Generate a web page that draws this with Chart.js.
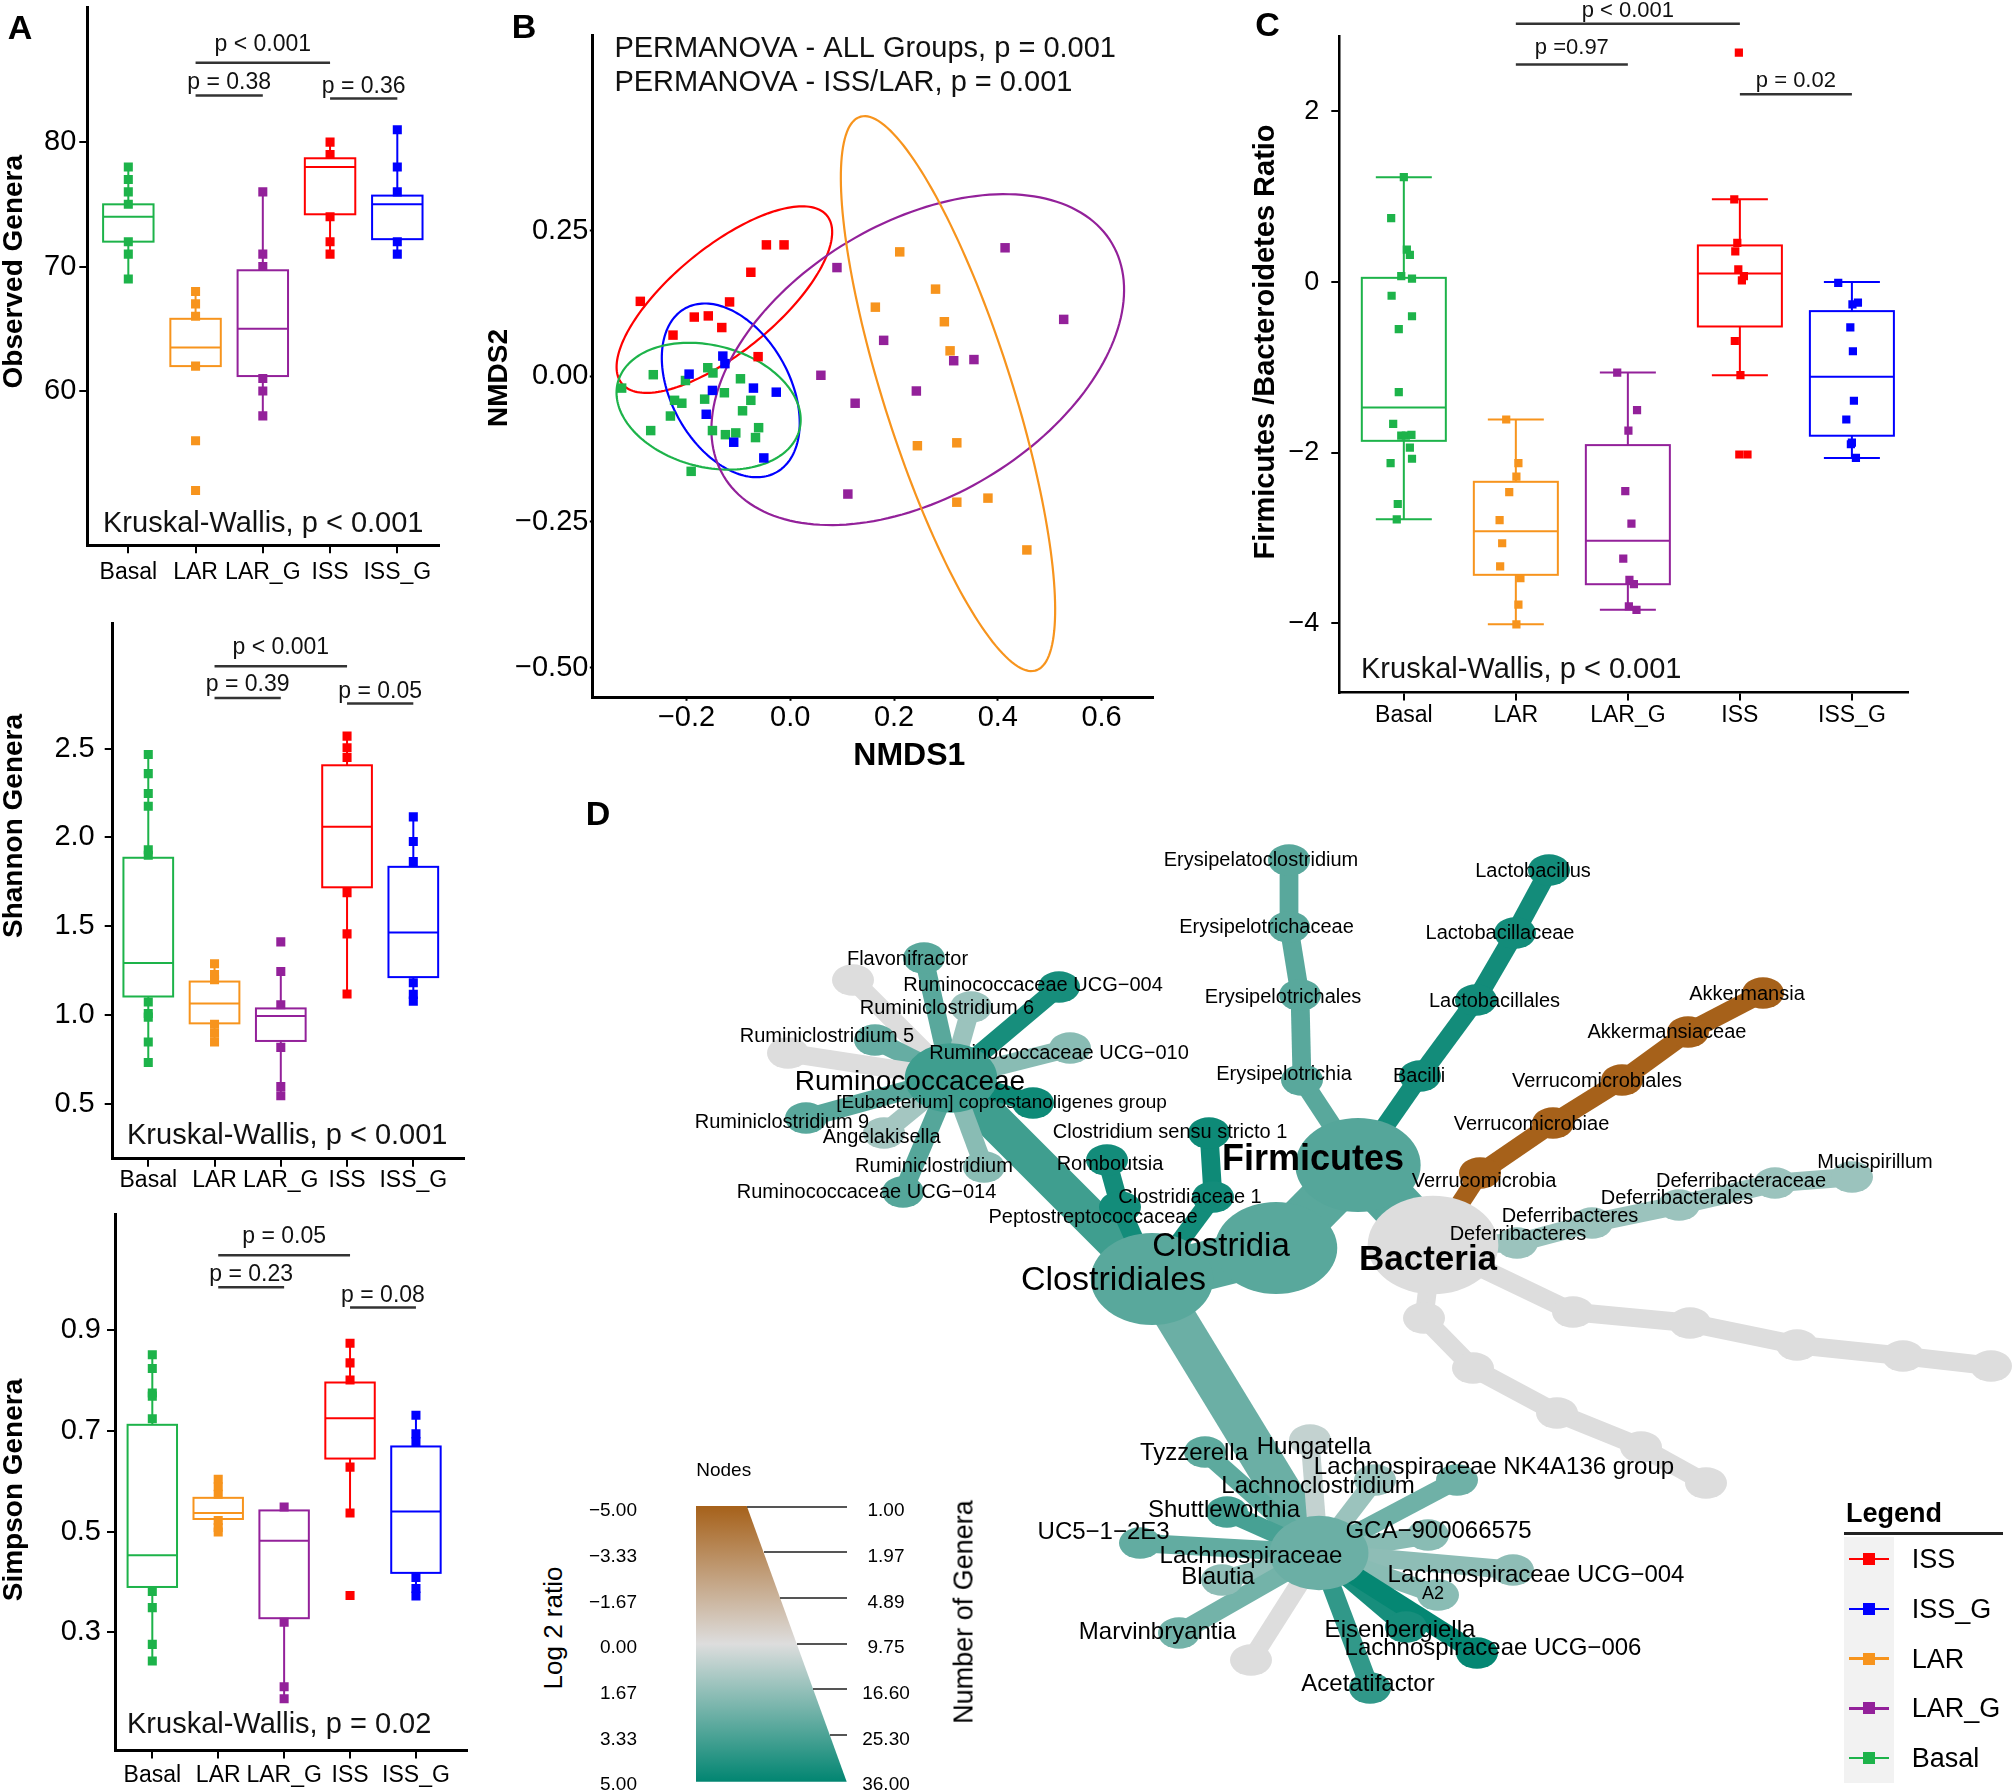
<!DOCTYPE html>
<html><head><meta charset="utf-8"><title>Figure</title>
<script src="https://cdn.jsdelivr.net/npm/chart.js@4.4.1/dist/chart.umd.min.js"></script>
<style>
html,body{margin:0;padding:0;background:#fff;}
body{width:2016px;height:1792px;position:relative;overflow:hidden;font-family:"Liberation Sans",Arial,Helvetica,sans-serif;}
canvas{position:absolute;display:block;}
.t{position:absolute;white-space:nowrap;color:#000;line-height:1;}
.c{transform:translate(-50%,-50%);}
.l{transform:translate(0,-50%);}
.r{transform:translate(-100%,-50%);}
.v{transform:translate(-50%,-50%) rotate(-90deg);}
.bx{position:absolute;}
</style></head><body>
<canvas id="cA1" width="470" height="600" style="left:0px;top:0px"></canvas>
<canvas id="cA2" width="480" height="600" style="left:0px;top:600px"></canvas>
<canvas id="cA3" width="480" height="592" style="left:0px;top:1200px"></canvas>
<canvas id="cB" width="680" height="790" style="left:480px;top:0px"></canvas>
<canvas id="cC" width="796" height="750" style="left:1220px;top:0px"></canvas>
<canvas id="cD" width="1416" height="972" style="left:600px;top:820px"></canvas>
<div id="ann"></div>
<script>
const FF='"Liberation Sans", Arial, Helvetica, sans-serif';
Chart.defaults.font.family=FF;
Chart.defaults.color='#000';

// ---------------- DATA ----------------
const groups=['Basal','LAR','LAR_G','ISS','ISS_G'];
const COL={Basal:'#1DB34A',LAR:'#F7941D',LAR_G:'#93219A',ISS:'#FF0000',ISS_G:'#0000FF'};

// A1 Observed genera
const obsTicks=[60,70,80];
const obsQ1=[72,62,61.2,74.2,72.2];
const obsMed=[74,63.5,65,78,75];
const obsQ3=[75,65.8,69.7,78.7,75.7];
const obsLo=[69,62,58,71,71];
const obsHi=[78,68,76,80,81];
const obsPts=[[78,77,76,75,72,71,69],[68,67,66,62,56,52],[76,71,70,61,60,58],[80,79,74,72,71],[81,78,76,72,71]];
const obsTests=[{p:'p < 0.001',a:2,b:4,y:86.37,ty:87.8},{p:'p = 0.38',a:2,b:3,y:83.75,ty:84.77},{p:'p = 0.36',a:4,b:5,y:83.5,ty:84.43}];

// A2 Shannon genera
const shaTicks=[0.5,1.0,1.5,2.0,2.5];
const shaQ1=[1.106,0.955,0.856,1.72,1.215];
const shaMed=[1.294,1.067,0.996,2.06,1.466];
const shaQ3=[1.886,1.19,1.039,2.406,1.835];
const shaLo=[0.735,0.85,0.548,1.12,1.08];
const shaHi=[2.467,1.29,1.247,2.57,2.116];
const shaPts=[[2.467,2.359,2.247,2.176,1.931,1.90,1.075,1.01,0.99,0.85,0.735],[1.29,1.23,1.20,0.95,0.90,0.85],[1.413,1.247,1.06,0.82,0.60,0.548],[2.57,2.505,2.45,1.69,1.458,1.12],[2.116,1.978,1.865,1.183,1.118,1.08]];
const shaTests=[{p:'p < 0.001',a:2,b:4,y:2.963,ty:3.066},{p:'p = 0.39',a:2,b:3,y:2.784,ty:2.857},{p:'p = 0.05',a:4,b:5,y:2.754,ty:2.818}];

// A3 Simpson genera
const simTicks=[0.3,0.5,0.7,0.9];
const simQ1=[0.39,0.525,0.328,0.645,0.418];
const simMed=[0.453,0.537,0.482,0.725,0.54];
const simQ3=[0.712,0.567,0.542,0.796,0.669];
const simLo=[0.243,0.499,0.168,0.537,0.372];
const simHi=[0.851,0.604,0.549,0.874,0.731];
const simPts=[[0.851,0.824,0.775,0.769,0.724,0.381,0.349,0.276,0.243],[0.604,0.589,0.574,0.522,0.508,0.499],[0.549,0.32,0.192,0.168],[0.874,0.835,0.801,0.628,0.537,0.373],[0.731,0.694,0.679,0.409,0.387,0.372]];
const simTests=[{p:'p = 0.05',a:2,b:4,y:1.0486,ty:1.086},{p:'p = 0.23',a:2,b:3,y:0.985,ty:1.010},{p:'p = 0.08',a:4,b:5,y:0.945,ty:0.9675}];

// B NMDS
const nmds1Ticks=[-0.2,0,0.2,0.4,0.6];
const nmds2Ticks=[-0.5,-0.25,0,0.25];
const basalX=[-0.325,-0.264,-0.202,-0.159,-0.149,-0.223,-0.209,-0.165,-0.127,-0.096,-0.076,-0.092,-0.231,-0.269,-0.150,-0.125,-0.105,-0.061,-0.067,-0.191];
const basalY=[-0.020,0.003,-0.007,0.015,0.006,-0.041,-0.046,-0.039,-0.028,-0.004,-0.041,-0.059,-0.068,-0.093,-0.093,-0.100,-0.097,-0.088,-0.105,-0.163];
const larX=[0.211,0.164,0.280,0.297,0.308,0.245,0.321,0.321,0.381,0.456];
const larY=[0.214,0.119,0.150,0.094,0.044,-0.119,-0.114,-0.216,-0.209,-0.298];
const largX=[0.090,0.414,0.527,0.180,0.059,0.315,0.354,0.125,0.243,0.111];
const largY=[0.187,0.221,0.098,0.062,0.002,0.027,0.029,-0.046,-0.025,-0.202];
const issX=[-0.289,-0.046,-0.012,-0.076,-0.117,-0.185,-0.158,-0.132,-0.226,-0.062];
const issY=[0.129,0.226,0.226,0.179,0.128,0.102,0.104,0.084,0.071,0.034];
const issgX=[-0.195,-0.130,-0.126,-0.150,-0.071,-0.027,-0.162,-0.109,-0.051];
const issgY=[0.004,0.035,0.022,-0.024,-0.020,-0.027,-0.065,-0.113,-0.140];
// 95% ellipses (centre and conjugate half-axes, NMDS units), group order
const ellCx=[-0.1574,0.304,0.2457,-0.127,-0.1147];
const ellCy=[-0.0511,-0.0295,0.0289,0.132,-0.0239];
const ellUx=[0.1765,0.1723,0.3864,0.2015,0.1029];
const ellUy=[-0.0343,-0.4745,0.1773,0.1393,-0.1309];
const ellVx=[-0.0186,-0.1139,0.0941,0.0506,-0.0841];
const ellVy=[-0.1034,-0.0448,-0.2221,-0.0792,-0.0716];

// C Firmicutes/Bacteroidetes
const fbTicks=[-4,-2,0,2];
const fbQ1=[-1.86,-3.43,-3.54,-0.52,-1.80];
const fbMed=[-1.47,-2.92,-3.03,0.10,-1.11];
const fbQ3=[0.05,-2.34,-1.91,0.43,-0.34];
const fbLo=[-2.78,-4.01,-3.84,-1.09,-2.06];
const fbHi=[1.23,-1.61,-1.06,0.97,0.0];
const fbPtsX=[[1.000,0.887,1.027,1.054,0.977,1.073,0.891,1.073,0.955,0.955,0.905,0.977,1.018,1.068,1.054,0.882,1.073,0.946,0.937],
 [1.914,2.023,2.005,1.941,1.855,1.878,1.860,2.041,2.023,2.005],
 [2.905,3.082,3.005,2.977,3.032,2.959,3.014,3.054,3.009,3.077],
 [3.991,3.950,3.977,3.959,3.986,4.036,4.018,3.955,4.005,3.995,4.068],
 [4.878,5.005,5.054,4.986,5.009,5.018,4.950,5.000,4.991,5.036]];
const fbPtsY=[[1.23,0.75,0.38,0.32,0.07,0.04,-0.16,-0.40,-0.55,-1.29,-1.66,-1.80,-1.80,-1.79,-1.94,-2.12,-2.07,-2.60,-2.78],
 [-1.61,-2.12,-2.28,-2.46,-2.79,-3.06,-3.33,-3.47,-3.78,-4.01],
 [-1.06,-1.50,-1.74,-2.45,-2.83,-3.24,-3.49,-3.54,-3.80,-3.84],
 [2.69,0.97,0.46,0.36,0.15,0.07,0.02,-0.69,-1.09,-2.02,-2.02],
 [-0.01,-0.26,-0.24,-0.53,-0.81,-1.39,-1.61,-1.88,-1.90,-2.06]];
const fbTests=[{p:'p < 0.001',a:2,b:4,y:3.026,ty:3.183},{p:'p =0.97',a:2,b:3,y:2.549,ty:2.746},{p:'p = 0.02',a:4,b:5,y:2.2,ty:2.363}];

// D heat tree (layout units)
const treeName=['Bacteria','Firmicutes','Clostridia','Clostridiales','Ruminococcaceae','Lachnospiraceae','Peptostreptococcaceae','Romboutsia','Clostridiaceae 1','Clostridium sensu stricto 1',
 'Erysipelotrichia','Erysipelotrichales','Erysipelotrichaceae','Erysipelatoclostridium','Bacilli','Lactobacillales','Lactobacillaceae','Lactobacillus',
 'Verrucomicrobia','Verrucomicrobiae','Verrucomicrobiales','Akkermansiaceae','Akkermansia',
 'Deferribacteres','Deferribacteres','Deferribacterales','Deferribacteraceae','Mucispirillum',
 '','','','','','','','','','',
 'Flavonifractor','','Ruminococcaceae UCG\u2212004','Ruminiclostridium 6','Ruminiclostridium 5','','Ruminococcaceae UCG\u2212010','[Eubacterium] coprostanoligenes group','Ruminiclostridium 9','Angelakisella','Ruminiclostridium','Ruminococcaceae UCG\u2212014',
 'Tyzzerella','Hungatella','Lachnospiraceae NK4A136 group','Lachnoclostridium','Shuttleworthia','UC5\u22121\u22122E3','GCA\u2212900066575','Lachnospiraceae UCG\u2212004','Blautia','A2','Marvinbryantia','','Eisenbergiella','Lachnospiraceae UCG\u2212006','Acetatifactor'];
const treeParent=[-1,0,1,2,3,3,3,6,3,8, 1,10,11,12,1,14,15,16, 0,18,19,20,21, 0,23,24,25,26, 0,28,29,30,31,0,33,34,35,36,
 4,4,4,4,4,4,4,4,4,4,4,4, 5,5,5,5,5,5,5,5,5,5,5,5,5,5,5];
const treeX=[83.3,75.8,67.6,55.2,35.1,71.9,52.0,50.7,61.3,60.9, 70.2,70.0,68.9,68.9,82.0,87.6,91.5,94.9, 88.0,95.3,102.2,108.8,116.3, 91.7,99.2,107.9,117.5,125.2,
 97.3,109.0,119.7,130.3,139.1,82.4,87.3,95.7,104.1,110.6,
 32.4,25.3,45.9,37.1,27.5,18.8,47.0,43.3,20.6,28.4,38.4,30.3,
 60.5,71.0,85.7,77.5,62.7,54.0,82.8,91.3,62.2,83.8,57.9,65.1,80.6,87.7,77.0];
const treeY=[54.7,62.7,54.4,51.3,71.4,23.9,58.5,63.2,59.5,65.9, 71.2,79.7,86.5,93.2,71.6,79.2,85.9,92.2, 61.9,66.9,71.2,76.0,79.9, 54.9,56.9,58.7,60.9,61.5,
 48.0,46.9,44.7,43.6,42.6,47.4,42.4,37.9,34.5,30.9,
 83.4,81.2,80.5,78.5,75.2,73.9,74.4,68.9,67.4,65.9,62.5,60.0,
 34.0,35.2,31.2,31.2,28.0,24.9,25.7,22.2,21.2,19.7,15.9,13.2,16.5,13.9,10.4];
const treeLog2=[0,3.1,3.0,3.0,3.6,2.6,4.6,4.6,4.6,4.7, 3.0,3.0,3.0,3.0,4.6,4.6,4.6,4.6, -5,-5,-5,-5,-5, 1.5,1.5,1.5,1.5,1.5,
 0,0,0,0,0,0,0,0,0,0,
 3.0,0,4.5,1.5,2.7,0,1.9,4.7,3.0,1.3,1.9,3.1,
 2.9,0.6,2.5,1.5,3.4,2.8,1.9,1.8,1.8,1.9,2.4,0,4.5,4.9,3.9];
const labelX=[82.8,71.3,62.1,51.35,31.0,65.1,49.3,51.0,59.0,57.0, 68.4,68.3,66.65,66.1,81.9,89.45,90.0,93.3, 88.4,93.15,99.7,106.7,114.7, 91.8,97.0,107.7,114.1,127.5,
 0,0,0,0,0,0,0,0,0,0,
 30.75,0,43.3,34.7,22.7,0,45.9,40.16,18.2,28.16,33.4,26.65,
 59.4,71.4,89.4,71.8,62.4,50.36,83.85,93.6,61.8,83.3,55.75,0,80.0,89.3,76.8];
const labelY=[53.2,63.2,54.5,51.1,71.0,23.6,57.5,62.8,59.5,66.0, 71.8,79.5,86.5,93.2,71.6,79.1,85.9,92.1, 61.1,66.8,71.1,76.0,79.8, 55.8,57.6,59.4,61.1,63.0,
 0,0,0,0,0,0,0,0,0,0,
 83.3,0,80.7,78.4,75.6,0,73.9,68.9,67.0,65.5,62.6,60.0,
 33.9,34.5,32.5,30.6,28.2,26.0,26.1,21.7,21.5,19.8,16.0,0,16.2,14.4,10.8];
// legend tick labels
const log2LegendTicks=[-5,-3.33,-1.67,0,1.67,3.33,5];
const sizeLegendTicks=[1,1.97,4.89,9.75,16.6,25.3,36];

// ---------------- HELPERS ----------------
function txt(c,s,x,y,font,align,color,rot){c.save();c.font=font;c.fillStyle=color||'#000';c.textAlign=align||'center';c.textBaseline='middle';c.translate(x,y);if(rot)c.rotate(rot);c.fillText(s,0,0);c.restore();}
function minus(s){return s.replace('-','\u2212');}
function l2c(v){const t=Math.max(-1,Math.min(1,v/5)),a=Math.abs(t),m=[221,221,221],e=t<0?[166,97,26]:[1,133,113];
  return 'rgb('+m.map((mv,k)=>Math.round(mv+(e[k]-mv)*a)).join(',')+')';}
function zeroPad(s){s.paddingTop=0;s.paddingBottom=0;s.paddingLeft=0;s.paddingRight=0;}

function boxPlugin(o){return{id:'boxes',
  beforeDatasetsDraw(ch){const c=ch.ctx,X=ch.scales.x,Y=ch.scales.y;c.save();c.lineWidth=o.lw;
    groups.forEach((g,i)=>{const k=i+1,xc=X.getPixelForValue(k),xl=X.getPixelForValue(k-0.375),xr=X.getPixelForValue(k+0.375);
      const q1=Y.getPixelForValue(o.q1[i]),q3=Y.getPixelForValue(o.q3[i]),md=Y.getPixelForValue(o.med[i]),lo=Y.getPixelForValue(o.lo[i]),hi=Y.getPixelForValue(o.hi[i]);
      c.strokeStyle=COL[g];c.beginPath();c.moveTo(xc,q3);c.lineTo(xc,hi);c.moveTo(xc,q1);c.lineTo(xc,lo);
      if(o.cap){const a=X.getPixelForValue(k-o.cap),b=X.getPixelForValue(k+o.cap);c.moveTo(a,hi);c.lineTo(b,hi);c.moveTo(a,lo);c.lineTo(b,lo);}
      c.stroke();c.fillStyle='#fff';c.fillRect(xl,q3,xr-xl,q1-q3);c.strokeRect(xl,q3,xr-xl,q1-q3);
      c.beginPath();c.moveTo(xl,md);c.lineTo(xr,md);c.stroke();});
    c.restore();},
  afterDraw(ch){const c=ch.ctx,X=ch.scales.x,Y=ch.scales.y;c.save();c.strokeStyle='#333';c.lineWidth=2.5;
    o.tests.forEach(t=>{const a=X.getPixelForValue(t.a),b=X.getPixelForValue(t.b),y=Y.getPixelForValue(t.y);
      c.beginPath();c.moveTo(a,y);c.lineTo(b,y);c.stroke();
      txt(c,t.p,(a+b)/2,Y.getPixelForValue(t.ty),o.pFs+'px '+FF,'center','#111');});
    txt(c,o.kw,o.kwPos[0],o.kwPos[1],o.kwFs+'px '+FF,'left','#111');
    txt(c,o.title,o.tPos[0],o.tPos[1],'bold '+o.tFs+'px '+FF,'center','#000',-Math.PI/2);
    c.restore();}};}

function makeBox(id,o){
  const ds=groups.map((g,i)=>({label:g,data:o.pts[i].map((v,j)=>({x:o.ptsX?o.ptsX[i][j]:i+1,y:v})),
    backgroundColor:COL[g],borderColor:COL[g],borderWidth:0,pointStyle:'rect',pointRadius:o.pr,pointHoverRadius:o.pr}));
  return new Chart(document.getElementById(id),{type:'scatter',data:{datasets:ds},options:{
    responsive:false,animation:false,events:[],
    layout:{padding:{top:o.pad[0],right:o.pad[1],bottom:0,left:0}},
    plugins:{legend:{display:false},tooltip:{enabled:false}},
    scales:{
      x:{type:'linear',bounds:'data',min:o.xr[0],max:o.xr[1],
        afterFit:s=>{s.height=o.xH;zeroPad(s);},
        afterBuildTicks:s=>{s.ticks=groups.map((g,i)=>({value:i+1}));},
        ticks:{autoSkip:false,maxRotation:0,minRotation:0,padding:o.xPad,font:{size:o.xFs},color:'#000',callback:v=>groups[Math.round(v)-1]},
        grid:{drawOnChartArea:false,drawTicks:true,tickLength:o.xTl,tickWidth:2,tickColor:'#000',color:'#000',lineWidth:2},
        border:{display:true,color:'#000',width:o.bw}},
      y:{type:'linear',bounds:'data',min:o.yr[0],max:o.yr[1],
        afterFit:s=>{s.width=o.yW;zeroPad(s);},
        afterBuildTicks:s=>{s.ticks=o.ticks.map(v=>({value:v}));},
        ticks:{padding:o.yPad,font:{size:o.yFs},color:'#000',callback:o.fmt},
        grid:{drawOnChartArea:false,drawTicks:true,tickLength:o.yTl,tickWidth:2,tickColor:'#000',color:'#000',lineWidth:2},
        border:{display:true,color:'#000',width:o.bw}}
    }},
    plugins:[boxPlugin(o)]});
}

// ---------------- PANEL A ----------------
makeBox('cA1',{q1:obsQ1,med:obsMed,q3:obsQ3,lo:obsLo,hi:obsHi,pts:obsPts,tests:obsTests,ticks:obsTicks,
  xr:[0.39,5.62],yr:[47.6,90.8],pad:[7.7,31],yW:87.3,xH:54.7,xTl:8,yTl:8,xPad:5.7,yPad:3,xFs:23,yFs:29,bw:3,lw:2,pr:6.4,
  fmt:v=>String(v),pFs:23,kw:'Kruskal-Wallis, p < 0.001',kwPos:[103,524.2],kwFs:29,title:'Observed Genera',tPos:[14.2,271.7],tFs:28});
makeBox('cA2',{q1:shaQ1,med:shaMed,q3:shaQ3,lo:shaLo,hi:shaHi,pts:shaPts,tests:shaTests,ticks:shaTicks,
  xr:[0.463,5.765],yr:[0.194,3.206],pad:[23,16],yW:112.7,xH:41.3,xTl:8,yTl:8,xPad:0.5,yPad:10,xFs:23,yFs:29,bw:3,lw:2,pr:6.4,
  fmt:v=>v.toFixed(1),pFs:23,kw:'Kruskal-Wallis, p < 0.001',kwPos:[127,535.7],kwFs:29,title:'Shannon Genera',tPos:[14,226],tFs:28});
makeBox('cA3',{q1:simQ1,med:simMed,q3:simQ3,lo:simLo,hi:simHi,pts:simPts,tests:simTests,ticks:simTicks,
  xr:[0.434,5.77],yr:[0.0653,1.13],pad:[14.3,13.3],yW:115,xH:41.5,xTl:8,yTl:8,xPad:3.5,yPad:6,xFs:23,yFs:29,bw:3,lw:2,pr:6.4,
  fmt:v=>v.toFixed(1),pFs:23,kw:'Kruskal-Wallis, p = 0.02',kwPos:[127,524.8],kwFs:29,title:'Simpson Genera',tPos:[14,290],tFs:28});

// ---------------- PANEL C ----------------
makeBox('cC',{q1:fbQ1,med:fbMed,q3:fbQ3,lo:fbLo,hi:fbHi,pts:fbPtsY,ptsX:fbPtsX,tests:fbTests,ticks:fbTicks,cap:0.25,
  xr:[0.424,5.5],yr:[-4.81,2.885],pad:[35.9,108.1],yW:119.3,xH:57.4,xTl:8,yTl:8,xPad:1.6,yPad:12,xFs:23,yFs:27,bw:2.5,lw:2,pr:5.8,
  fmt:v=>minus(String(v)),pFs:22,kw:'Kruskal-Wallis, p < 0.001',kwPos:[141,669.6],kwFs:29,title:'Firmicutes /Bacteroidetes Ratio',tPos:[45.7,342],tFs:29});

// ---------------- PANEL B ----------------
const bX=[basalX,larX,largX,issX,issgX], bY=[basalY,larY,largY,issY,issgY];
const ellPlugin={id:'ell',
  beforeDatasetsDraw(ch){const c=ch.ctx,X=ch.scales.x,Y=ch.scales.y;c.save();c.lineWidth=2.2;
    [3,4,0,2,1].forEach(i=>{c.strokeStyle=COL[groups[i]];c.beginPath();
      for(let k=0;k<=180;k++){const t=k/180*2*Math.PI;const xv=ellCx[i]+ellUx[i]*Math.cos(t)+ellVx[i]*Math.sin(t);const yv=ellCy[i]+ellUy[i]*Math.cos(t)+ellVy[i]*Math.sin(t);
        const px=X.getPixelForValue(xv),py=Y.getPixelForValue(yv);if(k===0)c.moveTo(px,py);else c.lineTo(px,py);}
      c.closePath();c.stroke();});
    c.restore();},
  afterDraw(ch){const c=ch.ctx;
    txt(c,'PERMANOVA - ALL Groups, p = 0.001',134.4,48.9,'29px '+FF,'left','#111');
    txt(c,'PERMANOVA - ISS/LAR, p = 0.001',134.4,83.1,'29px '+FF,'left','#111');
    txt(c,'NMDS1',429.3,755.7,'bold 32px '+FF,'center');
    txt(c,'NMDS2',19,378,'bold 28px '+FF,'center','#000',-Math.PI/2);}};
new Chart(document.getElementById('cB'),{type:'scatter',
  data:{datasets:[3,4,0,2,1].map(i=>({label:groups[i],data:bX[i].map((x,j)=>({x,y:bY[i][j]})),backgroundColor:COL[groups[i]],borderWidth:0,pointStyle:'rect',pointRadius:6.7,pointHoverRadius:6.7}))},
  options:{responsive:false,animation:false,events:[],clip:false,
    layout:{padding:{top:35.3,right:3.5,bottom:0,left:0}},
    plugins:{legend:{display:false},tooltip:{enabled:false}},
    scales:{
      x:{type:'linear',bounds:'data',min:-0.3806,max:0.6997,afterFit:s=>{s.height=92.2;zeroPad(s);},
        afterBuildTicks:s=>{s.ticks=nmds1Ticks.map(v=>({value:v}));},
        ticks:{padding:0,font:{size:29},color:'#000',maxRotation:0,callback:v=>minus(v.toFixed(1))},
        grid:{drawOnChartArea:false,drawTicks:true,tickLength:3,tickWidth:2,tickColor:'#000'},
        border:{display:true,color:'#000',width:3}},
      y:{type:'linear',bounds:'data',min:-0.552,max:0.586,afterFit:s=>{s.width=112.8;zeroPad(s);},
        afterBuildTicks:s=>{s.ticks=nmds2Ticks.map(v=>({value:v}));},
        ticks:{padding:1.4,font:{size:29},color:'#000',callback:v=>minus(v.toFixed(2))},
        grid:{drawOnChartArea:false,drawTicks:true,tickLength:3,tickWidth:2,tickColor:'#000'},
        border:{display:true,color:'#000',width:3}}}},
  plugins:[ellPlugin]});

// ---------------- PANEL D ----------------
const kids=treeName.map(()=>[]);treeParent.forEach((p,i)=>{if(p>=0)kids[p].push(i);});
const nGen=treeName.map(()=>0);
function countLeaves(i){if(!kids[i].length){nGen[i]=1;return 1;}let s=0;kids[i].forEach(k=>{s+=countLeaves(k);});nGen[i]=s;return s;}
countLeaves(0);
const depth=treeParent.map(()=>0);treeParent.forEach((p,i)=>{depth[i]=p<0?0:depth[p]+1;});
const ASPECT=1.33;
function nodeR(i){return 2.1+4.5*Math.sqrt((nGen[i]-1)/35);}
const labelSize=treeName.map((n,i)=>{if(i===0)return 35;if(i===1)return 36;if(i===2)return 33;if(i===3)return 34;if(i===4)return 28;if(i===5)return 24;
  if(i===45)return 19;if(i===59)return 18;if(i>=50)return 24;return 20;});
const treePlugin={id:'tree',
  beforeDatasetsDraw(ch){const c=ch.ctx,X=ch.scales.x,Y=ch.scales.y;c.save();
    const rx=i=>X.getPixelForValue(treeX[i]+nodeR(i))-X.getPixelForValue(treeX[i]);
    const ry=i=>(Y.getPixelForValue(treeY[i])-Y.getPixelForValue(treeY[i]+nodeR(i)))/ASPECT;
    c.lineCap='butt';
    treeName.forEach((n,i)=>{const p=treeParent[i];if(p<0)return;
      c.strokeStyle=l2c(treeLog2[i]);c.lineWidth=0.75*rx(i)+3;c.beginPath();
      c.moveTo(X.getPixelForValue(treeX[p]),Y.getPixelForValue(treeY[p]));c.lineTo(X.getPixelForValue(treeX[i]),Y.getPixelForValue(treeY[i]));c.stroke();});
    const order=treeName.map((n,i)=>i).sort((a,b)=>depth[b]-depth[a]);
    order.forEach(i=>{c.fillStyle=l2c(treeLog2[i]);c.beginPath();
      c.ellipse(X.getPixelForValue(treeX[i]),Y.getPixelForValue(treeY[i]),rx(i),ry(i),0,0,2*Math.PI);c.fill();});
    c.restore();},
  afterDatasetsDraw(ch){const c=ch.ctx,X=ch.scales.x,Y=ch.scales.y;
    treeName.forEach((n,i)=>{if(!n)return;const bold=(i<=1)?'bold ':'';
      txt(c,n,X.getPixelForValue(labelX[i]),Y.getPixelForValue(labelY[i]),bold+labelSize[i]+'px '+FF,'center','#000');});}};
new Chart(document.getElementById('cD'),{type:'scatter',
  data:{datasets:[{label:'taxa',data:treeX.map((x,i)=>({x,y:treeY[i]})),pointRadius:0,pointHoverRadius:0}]},
  options:{responsive:false,animation:false,events:[],layout:{padding:0},
    plugins:{legend:{display:false},tooltip:{enabled:false}},
    scales:{x:{type:'linear',display:false,min:0,max:141.6},y:{type:'linear',display:false,min:0,max:97.2}}},
  plugins:[treePlugin]});

// ---------------- ANNOTATIONS (HTML) ----------------
const ann=document.getElementById('ann');
function addT(s,x,y,css,cls){const d=document.createElement('div');d.className='t '+(cls||'c');d.textContent=s;d.style.left=x+'px';d.style.top=y+'px';if(css)d.style.cssText+=css;ann.appendChild(d);return d;}
function addB(x,y,w,h,css){const d=document.createElement('div');d.className='bx';d.style.left=x+'px';d.style.top=y+'px';d.style.width=w+'px';d.style.height=h+'px';if(css)d.style.cssText+=css;ann.appendChild(d);return d;}
const LET='font-weight:bold;font-size:34px;';
addT('A',20,26.5,LET);addT('B',524,25.5,LET);addT('C',1267.5,24,LET);addT('D',598,813,LET);

// heat-tree colour/size key
addT('Nodes',723.7,1469.3,'font-size:19px;');
addB(695.7,1505.7,151,276,'clip-path:polygon(0 0,51px 0,100% 100%,0 100%);background:linear-gradient(to bottom,'+l2c(-5)+','+l2c(0)+','+l2c(5)+');');
log2LegendTicks.forEach((v,k)=>{
  const yl=1506.7+k*45.67, xe=746.7+100*(yl-1505.7)/276;
  if(846.7-xe>1)addB(xe,yl-1,846.7-xe,2,'background:#555;');
  const ty=1509.3+k*45.67;
  addT((v<0?'\u2212':'')+Math.abs(v).toFixed(2),637,ty,'font-size:19px;','r');
  addT(sizeLegendTicks[k].toFixed(2),886,ty,'font-size:19px;','c');
});
addT('Log 2 ratio',552.5,1628,'font-size:26px;','v');
addT('Number of Genera',964,1612,'font-size:27px;','v');

// group legend
addT('Legend',1846,1513.3,'font-weight:bold;font-size:27px;','l');
addB(1844,1532,159,2.5,'background:#222;');
addB(1844,1536.7,50,246.6,'background:#f2f2f2;');
['ISS','ISS_G','LAR','LAR_G','Basal'].forEach((g,k)=>{const y=1559+k*49.8;
  addB(1849.3,y-1.25,39.7,2.5,'background:'+COL[g]+';');
  addB(1863,y-6,12,12,'background:'+COL[g]+';');
  addT(g,1911.7,y,'font-size:27px;','l');});
</script></body></html>
